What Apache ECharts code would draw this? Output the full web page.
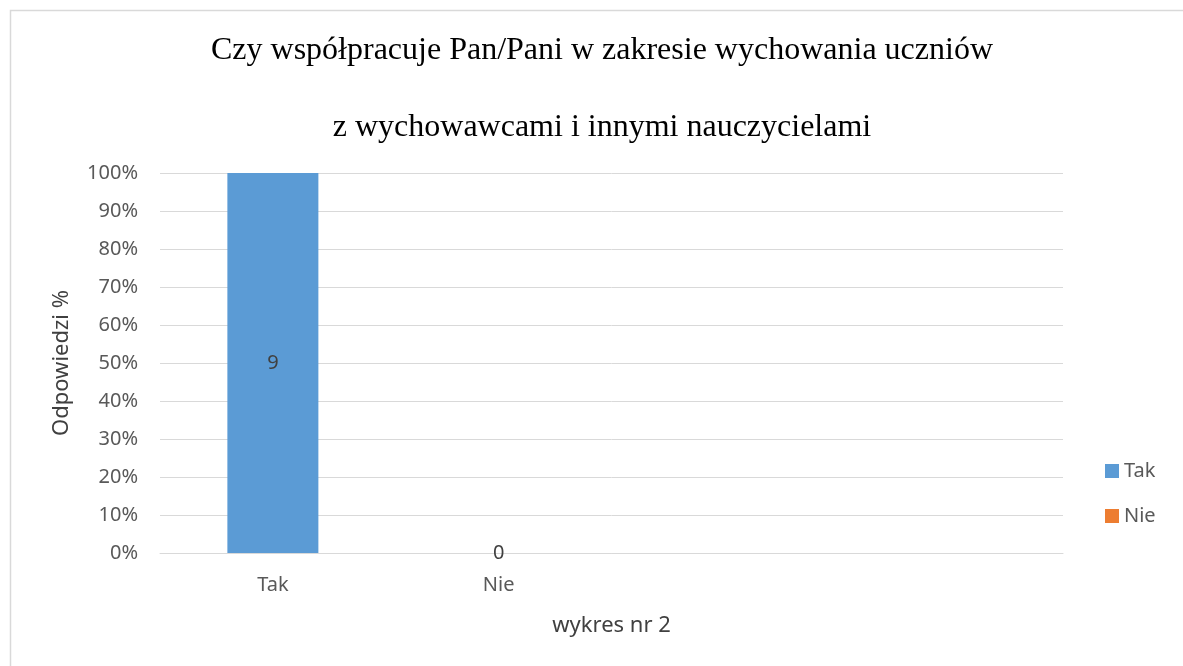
<!DOCTYPE html>
<html>
<head>
<meta charset="utf-8">
<script src="https://cdn.jsdelivr.net/npm/echarts@6/dist/echarts.min.js"></script>
<style>
html,body{margin:0;padding:0;background:#fff;}
#chart{width:1183px;height:666px;}
</style>
</head>
<body>
<div id="chart"></div>
<script>
var titleLine1 = 'Czy współpracuje Pan/Pani w zakresie wychowania uczniów';
var titleLine2 = 'z wychowawcami i innymi nauczycielami';
var categories = ['Tak', 'Nie', '', ''];
var seriesNames = ['Tak', 'Nie'];
var takPercent = [100, null, null, null];
var niePercent = [null, 0, null, null];
var takCount = [9, null, null, null];
var nieCount = [null, 0, null, null];
var yTicks = [0, 10, 20, 30, 40, 50, 60, 70, 80, 90, 100];
var yAxisName = 'Odpowiedzi %';
var xAxisName = 'wykres nr 2';

var sans = '"Noto Sans", sans-serif';
var chart = echarts.init(document.getElementById('chart'), null, {renderer: 'canvas'});

function makeSeries(name, values, counts, color) {
  return {
    name: name,
    type: 'bar',
    data: values,
    barWidth: 91,
    barGap: '-100%',
    itemStyle: {color: color},
    label: {
      show: true,
      position: 'inside',
      color: '#404040',
      fontFamily: sans,
      fontSize: 20,
      formatter: function (p) { return counts[p.dataIndex]; }
    }
  };
}

chart.setOption({
  animation: false,
  backgroundColor: '#fff',
  graphic: [{
    type: 'rect',
    shape: {x: 10.5, y: 10.5, width: 1400, height: 900},
    style: {fill: 'none', stroke: '#d9d9d9', lineWidth: 1.5},
    silent: true
  }],
  title: [
    {text: titleLine1, left: 597, top: 30, textAlign: 'center',
     textStyle: {fontFamily: '"Liberation Serif", serif', fontSize: 32, fontWeight: 'normal', color: '#000', lineHeight: 32}},
    {text: titleLine2, left: 597, top: 107, textAlign: 'center',
     textStyle: {fontFamily: '"Liberation Serif", serif', fontSize: 32, fontWeight: 'normal', color: '#000', lineHeight: 32}}
  ],
  legend: {
    orient: 'vertical',
    left: 1100,
    top: 456,
    itemWidth: 14,
    itemHeight: 14,
    itemGap: 25,
    icon: 'rect',
    data: seriesNames,
    textStyle: {fontFamily: sans, fontSize: 20, color: '#595959'}
  },
  grid: {left: 160, right: 120, top: 173, bottom: 113},
  xAxis: {
    type: 'category',
    data: categories,
    name: xAxisName,
    nameLocation: 'middle',
    nameGap: 62,
    nameTextStyle: {fontFamily: sans, fontSize: 22, color: '#404040'},
    axisLine: {lineStyle: {color: '#d9d9d9', width: 1}},
    axisTick: {show: false},
    axisLabel: {fontFamily: sans, fontSize: 20, color: '#595959', margin: 22}
  },
  yAxis: {
    type: 'value',
    min: yTicks[0],
    max: yTicks[yTicks.length - 1],
    interval: yTicks[1] - yTicks[0],
    name: yAxisName,
    nameLocation: 'middle',
    nameGap: 87,
    nameTextStyle: {fontFamily: sans, fontSize: 22, color: '#404040'},
    axisLine: {show: false},
    axisTick: {show: false},
    splitLine: {lineStyle: {color: '#d9d9d9', width: 1}},
    axisLabel: {fontFamily: sans, fontSize: 20, color: '#595959', margin: 22, formatter: '{value}%'}
  },
  series: [
    makeSeries(seriesNames[0], takPercent, takCount, '#5B9BD5'),
    makeSeries(seriesNames[1], niePercent, nieCount, '#ED7D31')
  ]
});
</script>
</body>
</html>
